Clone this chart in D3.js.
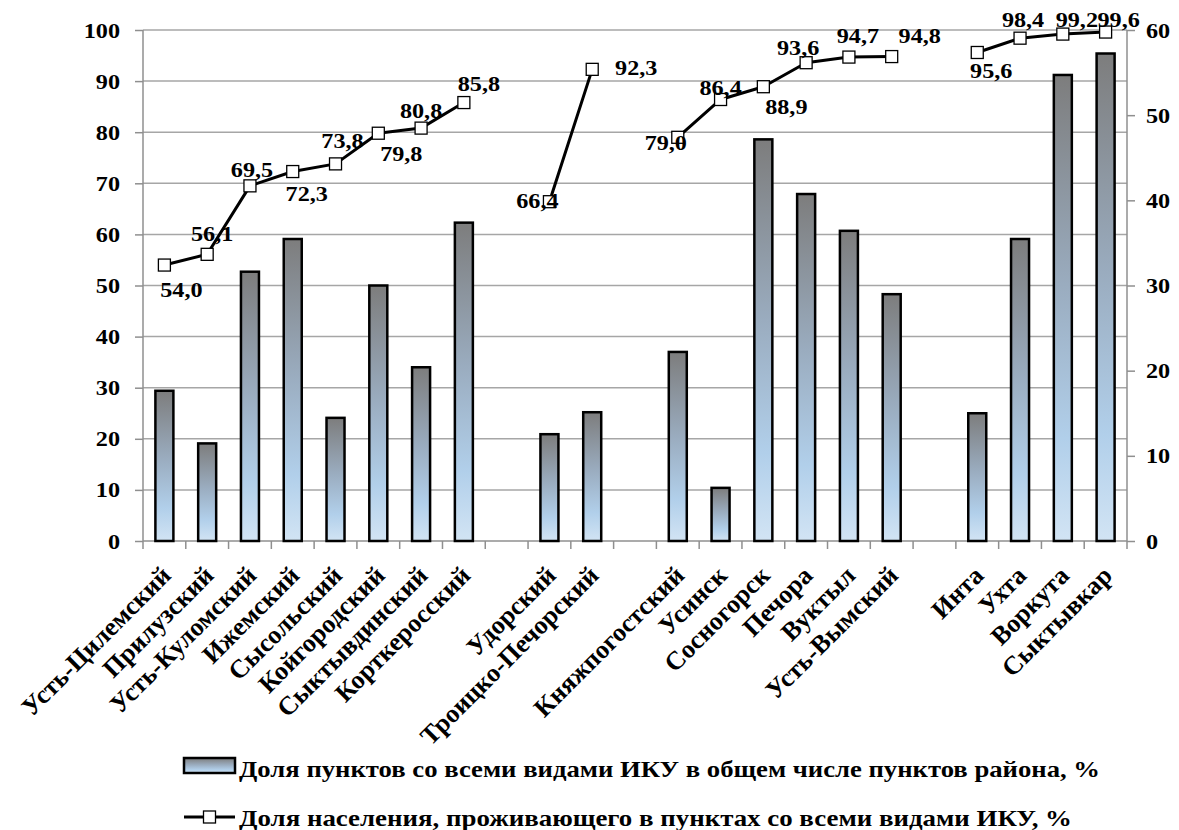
<!DOCTYPE html>
<html lang="ru">
<head>
<meta charset="utf-8">
<script src="https://cdn.jsdelivr.net/npm/d3@7"></script>
<style>
  html, body { margin: 0; padding: 0; background: #fff; }
  svg { display: block; }
</style>
</head>
<body>
<svg id="chart" width="1179" height="830"></svg>
<script>
// Districts and city districts of the Komi Republic, in four groups ("" = gap between groups)
const categories = [
  "Усть-Цилемский", "Прилузский", "Усть-Куломский", "Ижемский", "Сысольский",
  "Койгородский", "Сыктывдинский", "Корткеросский", "",
  "Удорский", "Троицко-Печорский", "",
  "Княжпогостский", "Усинск", "Сосногорск", "Печора", "Вуктыл", "Усть-Вымский", "",
  "Инта", "Ухта", "Воркута", "Сыктывкар"
];

// Share of settlements with all kinds of ICU among all settlements of the district, %
const settlementShare = [
  29.4, 19.1, 52.7, 59.1, 24.1, 50.0, 34.0, 62.3, null,
  20.9, 25.2, null,
  37.0, 10.4, 78.6, 67.9, 60.7, 48.3, null,
  25.0, 59.1, 91.2, 95.4
];

// Share of population living in settlements with all kinds of ICU, %
const populationShare = [
  54.0, 56.1, 69.5, 72.3, 73.8, 79.8, 80.8, 85.8, null,
  66.4, 92.3, null,
  79.0, 86.4, 88.9, 93.6, 94.7, 94.8, null,
  95.6, 98.4, 99.2, 99.6
];

const leftTicks = [0, 10, 20, 30, 40, 50, 60, 70, 80, 90, 100];
const rightTicks = [0, 10, 20, 30, 40, 50, 60];

const legendLabels = [
  "Доля пунктов со всеми видами ИКУ в общем числе пунктов района, %",
  "Доля населения, проживающего в пунктах со всеми видами ИКУ, %"
];

// Value label offsets (dx, dy from the marker to the label's centre/baseline)
const labelOffsets = [
  [17, 32], [5, -13], [2, -9], [14, 29], [7, -16], [23, 28], [0, -10], [15, -12], null,
  [-12, 6], [44, 6], null,
  [-12, 13], [0, -4], [23, 27], [-8, -8], [9, -14], [28, -14], null,
  [14, 26], [3, -11], [14, -7], [13, -5]
];

const FONT = '"Liberation Serif", Tinos, "Times New Roman", serif';
const fmt = v => v.toFixed(1).replace(".", ",");

// every label is bold serif
const styleText = sel => sel
  .style("font-family", FONT)
  .style("font-weight", "bold")
  .style("fill", "#000");

const svg = d3.select("#chart");
const plot = { left: 143, right: 1127, top: 30, bottom: 541 };

const x = d3.scaleBand()
  .domain(d3.range(categories.length))
  .range([plot.left, plot.right])
  .padding(0);

const y = d3.scaleLinear().domain([0, 100]).range([plot.bottom, plot.top]);
const yRight = d3.scaleLinear().domain([0, 60]).range([plot.bottom, plot.top]);

const axisColor = "#8f8f8f";
const SX = 1.1; // slight horizontal widening of the serif labels

// gradient for bars
const defs = svg.append("defs");
const grad = defs.append("linearGradient")
  .attr("id", "barGrad").attr("x1", 0).attr("y1", 0).attr("x2", 0).attr("y2", 1);
grad.append("stop").attr("offset", "0%").attr("stop-color", "#7d7d7d");
grad.append("stop").attr("offset", "45%").attr("stop-color", "#9aacbf");
grad.append("stop").attr("offset", "78%").attr("stop-color", "#b1cfea");
grad.append("stop").attr("offset", "100%").attr("stop-color", "#d2e4f4");

// horizontal gridlines
svg.append("g")
  .selectAll("line")
  .data(leftTicks.filter(t => t > 0))
  .join("line")
  .attr("x1", plot.left).attr("x2", plot.right)
  .attr("y1", d => y(d)).attr("y2", d => y(d))
  .attr("stroke", "#a6a6a6").attr("stroke-width", 1.5);

// left axis
const leftAxis = svg.append("g")
  .attr("transform", `translate(${plot.left},0)`)
  .call(d3.axisLeft(y).tickValues(leftTicks).tickSize(8).tickPadding(0).tickFormat(""));
leftAxis.select(".domain").remove();
leftAxis.selectAll("line").attr("stroke", axisColor).attr("stroke-width", 1.5);
svg.append("line")
  .attr("x1", plot.left).attr("x2", plot.left)
  .attr("y1", plot.top).attr("y2", plot.bottom + 8)
  .attr("stroke", axisColor).attr("stroke-width", 1.5);
svg.append("g").selectAll("text")
  .data(leftTicks)
  .join("text")
  .attr("transform", d => `translate(120,${y(d) + 7.5}) scale(${SX},1)`)
  .attr("text-anchor", "end")
  .style("font-size", "22px")
  .call(styleText)
  .text(d => d);

// right axis
const rightAxis = svg.append("g")
  .attr("transform", `translate(${plot.right},0)`)
  .call(d3.axisRight(yRight).tickValues(rightTicks).tickSize(8).tickFormat(""));
rightAxis.select(".domain").remove();
rightAxis.selectAll("line").attr("stroke", axisColor).attr("stroke-width", 1.5);
svg.append("line")
  .attr("x1", plot.right).attr("x2", plot.right)
  .attr("y1", plot.top).attr("y2", plot.bottom + 8)
  .attr("stroke", axisColor).attr("stroke-width", 1.5);
svg.append("g").selectAll("text")
  .data(rightTicks)
  .join("text")
  .attr("transform", d => `translate(1146,${yRight(d) + 7.5}) scale(${SX},1)`)
  .attr("text-anchor", "start")
  .style("font-size", "22px")
  .call(styleText)
  .text(d => d);

// category axis: baseline and boundary ticks
svg.append("line")
  .attr("x1", plot.left).attr("x2", plot.right)
  .attr("y1", plot.bottom).attr("y2", plot.bottom)
  .attr("stroke", axisColor).attr("stroke-width", 1.5);
svg.append("g").selectAll("line")
  .data(d3.range(1, categories.length))
  .join("line")
  .attr("x1", i => x(i)).attr("x2", i => x(i))
  .attr("y1", plot.bottom).attr("y2", plot.bottom + 8)
  .attr("stroke", axisColor).attr("stroke-width", 1.5);

// bars
const barW = 18;
svg.append("g").selectAll("rect")
  .data(settlementShare.map((v, i) => ({ v, i })).filter(d => d.v != null))
  .join("rect")
  .attr("x", d => x(d.i) + x.bandwidth() / 2 - barW / 2)
  .attr("y", d => y(d.v))
  .attr("width", barW)
  .attr("height", d => y(0) - y(d.v))
  .attr("fill", "url(#barGrad)")
  .attr("stroke", "#000").attr("stroke-width", 2.5);

// category labels, rotated
svg.append("g").selectAll("text")
  .data(categories.map((c, i) => ({ c, i })).filter(d => d.c))
  .join("text")
  .attr("transform", d => `translate(${x(d.i) + x.bandwidth() / 2 + 8},577) rotate(-45)`)
  .attr("text-anchor", "end")
  .style("font-size", "26px")
  .call(styleText)
  .text(d => d.c);

// population line, broken between groups
const pts = populationShare.map((v, i) => ({ v, i }));
const line = d3.line()
  .defined(d => d.v != null)
  .x(d => x(d.i) + x.bandwidth() / 2)
  .y(d => y(d.v));
svg.append("path")
  .datum(pts)
  .attr("d", line)
  .attr("fill", "none")
  .attr("stroke", "#000").attr("stroke-width", 3).attr("stroke-linejoin", "round");

const mk = 12;
svg.append("g").selectAll("rect")
  .data(pts.filter(d => d.v != null))
  .join("rect")
  .attr("x", d => x(d.i) + x.bandwidth() / 2 - mk / 2)
  .attr("y", d => y(d.v) - mk / 2)
  .attr("width", mk).attr("height", mk)
  .attr("fill", "#fff").attr("stroke", "#000").attr("stroke-width", 1.3);

// value labels
svg.append("g").selectAll("text")
  .data(pts.filter(d => d.v != null))
  .join("text")
  .attr("transform", d => {
    const o = labelOffsets[d.i];
    return `translate(${x(d.i) + x.bandwidth() / 2 + o[0]},${y(d.v) + o[1]}) scale(${SX},1)`;
  })
  .attr("text-anchor", "middle")
  .style("font-size", "22px")
  .call(styleText)
  .text(d => fmt(d.v));

// legend
const lg = svg.append("g");
lg.append("rect")
  .attr("x", 184).attr("y", 758).attr("width", 51).attr("height", 15)
  .attr("fill", "url(#barGrad)").attr("stroke", "#000").attr("stroke-width", 2.5);
lg.append("text")
  .attr("x", 239).attr("y", 777)
  .attr("textLength", 861).attr("lengthAdjust", "spacingAndGlyphs")
  .style("font-size", "23px")
  .call(styleText)
  .text(legendLabels[0]);

lg.append("line")
  .attr("x1", 184).attr("x2", 235).attr("y1", 817).attr("y2", 817)
  .attr("stroke", "#000").attr("stroke-width", 3);
lg.append("rect")
  .attr("x", 209.5 - mk / 2).attr("y", 817 - mk / 2).attr("width", mk).attr("height", mk)
  .attr("fill", "#fff").attr("stroke", "#000").attr("stroke-width", 1.3);
lg.append("text")
  .attr("x", 239).attr("y", 826)
  .attr("textLength", 833).attr("lengthAdjust", "spacingAndGlyphs")
  .style("font-size", "23px")
  .call(styleText)
  .text(legendLabels[1]);
</script>
</body>
</html>
